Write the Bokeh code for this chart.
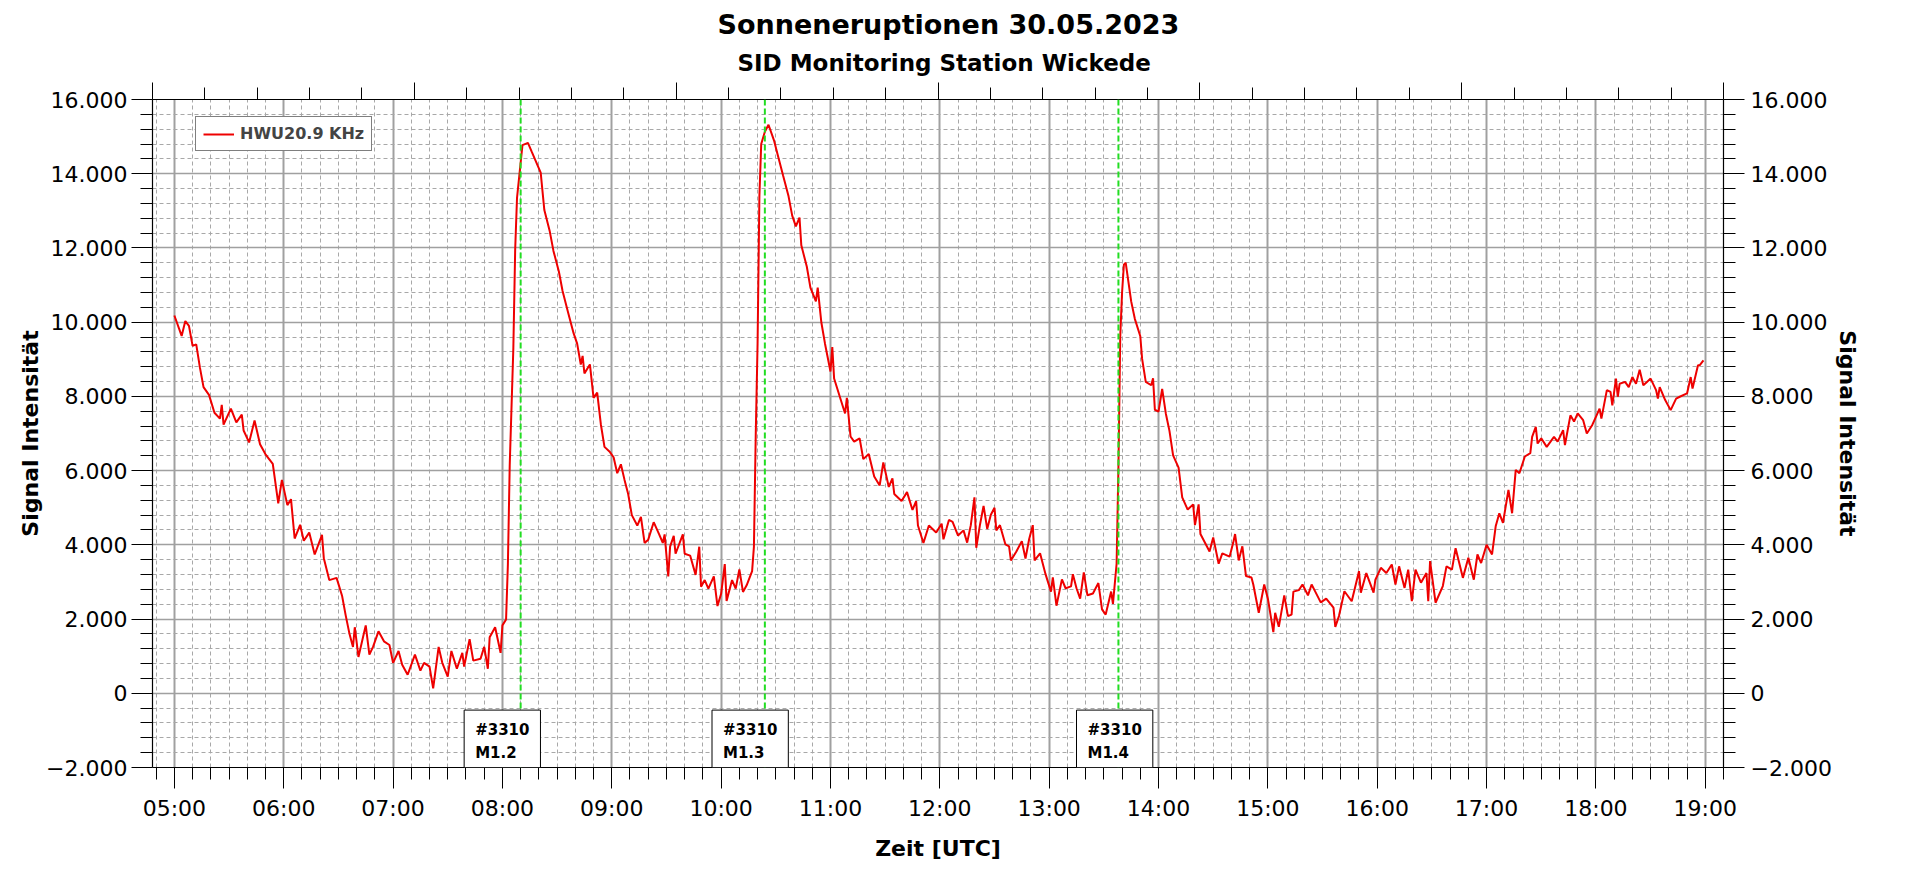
from bokeh.plotting import figure
from bokeh.models import (Range1d, LinearAxis, FixedTicker, Span, Label, Legend, LegendItem,
                          ColumnDataSource, Title)
from bokeh.embed import file_html
from bokeh.resources import INLINE

# ---------------- data ----------------
title_text = "Sonneneruptionen 30.05.2023"
subtitle_text = "SID Monitoring Station Wickede"
series_name = "HWU20.9 KHz"
x_label = "Zeit [UTC]"
y_label = "Signal Intensität"

time_utc = [
    "05:00", "05:04", "05:06", "05:08", "05:10", "05:12", "05:14", "05:16", "05:19", "05:22",
    "05:25", "05:26", "05:27", "05:31", "05:34", "05:37", "05:38", "05:41", "05:44", "05:47",
    "05:50", "05:54", "05:57", "05:59", "06:02", "06:04", "06:06", "06:09", "06:11", "06:14",
    "06:17", "06:21", "06:22", "06:25", "06:29", "06:32", "06:34", "06:36", "06:38", "06:39",
    "06:41", "06:43", "06:45", "06:47", "06:49", "06:52", "06:55", "06:58", "07:00", "07:03",
    "07:05", "07:08", "07:12", "07:15", "07:17", "07:20", "07:22", "07:25", "07:27", "07:30",
    "07:32", "07:35", "07:38", "07:39", "07:42", "07:44", "07:48", "07:50", "07:52", "07:53",
    "07:56", "07:59", "08:00", "08:02", "08:03", "08:04", "08:06", "08:07", "08:08", "08:10",
    "08:11", "08:14", "08:16", "08:21", "08:23", "08:26", "08:28", "08:31", "08:33", "08:36",
    "08:39", "08:41", "08:43", "08:44", "08:45", "08:48", "08:50", "08:52", "08:54", "08:56",
    "08:59", "09:01", "09:03", "09:05", "09:07", "09:09", "09:11", "09:14", "09:16", "09:18",
    "09:20", "09:23", "09:26", "09:28", "09:29", "09:31", "09:32", "09:34", "09:35", "09:39",
    "09:40", "09:43", "09:46", "09:48", "09:49", "09:51", "09:53", "09:56", "09:58", "10:00",
    "10:02", "10:03", "10:06", "10:08", "10:10", "10:12", "10:14", "10:17", "10:18", "10:19",
    "10:20", "10:21", "10:22", "10:24", "10:26", "10:29", "10:31", "10:34", "10:37", "10:39",
    "10:41", "10:43", "10:44", "10:47", "10:49", "10:52", "10:53", "10:55", "10:57", "11:00",
    "11:01", "11:02", "11:05", "11:08", "11:09", "11:11", "11:13", "11:16", "11:18", "11:21",
    "11:24", "11:27", "11:29", "11:32", "11:34", "11:35", "11:39", "11:42", "11:45", "11:47",
    "11:48", "11:51", "11:54", "11:58", "12:01", "12:02", "12:05", "12:07", "12:10", "12:13",
    "12:15", "12:17", "12:19", "12:20", "12:22", "12:24", "12:26", "12:28", "12:30", "12:31",
    "12:33", "12:36", "12:38", "12:39", "12:42", "12:45", "12:47", "12:49", "12:51", "12:52",
    "12:55", "12:58", "13:01", "13:02", "13:04", "13:07", "13:09", "13:12", "13:13", "13:15",
    "13:17", "13:19", "13:21", "13:24", "13:27", "13:29", "13:31", "13:34", "13:35", "13:37",
    "13:38", "13:39", "13:40", "13:41", "13:42", "13:45", "13:47", "13:50", "13:51", "13:53",
    "13:56", "13:57", "13:58", "14:00", "14:02", "14:04", "14:06", "14:08", "14:11", "14:13",
    "14:16", "14:19", "14:20", "14:22", "14:23", "14:26", "14:28", "14:30", "14:33", "14:35",
    "14:39", "14:41", "14:42", "14:44", "14:46", "14:48", "14:51", "14:52", "14:55", "14:58",
    "15:00", "15:03", "15:04", "15:06", "15:09", "15:11", "15:13", "15:14", "15:17", "15:19",
    "15:22", "15:24", "15:26", "15:29", "15:32", "15:36", "15:37", "15:39", "15:42", "15:46",
    "15:50", "15:51", "15:54", "15:58", "15:59", "16:02", "16:05", "16:08", "16:10", "16:12",
    "16:15", "16:17", "16:19", "16:21", "16:24", "16:27", "16:28", "16:29", "16:32", "16:36",
    "16:38", "16:41", "16:43", "16:45", "16:47", "16:50", "16:53", "16:55", "16:57", "17:00",
    "17:03", "17:05", "17:07", "17:09", "17:12", "17:14", "17:16", "17:18", "17:21", "17:24",
    "17:25", "17:27", "17:28", "17:30", "17:33", "17:37", "17:39", "17:42", "17:43", "17:46",
    "17:48", "17:50", "17:53", "17:55", "17:58", "18:00", "18:02", "18:03", "18:06", "18:08",
    "18:09", "18:11", "18:12", "18:13", "18:16", "18:18", "18:20", "18:22", "18:24", "18:26",
    "18:28", "18:30", "18:33", "18:34", "18:35", "18:38", "18:41", "18:44", "18:46", "18:50",
    "18:52", "18:53", "18:56", "18:57", "18:59",
]

signal = [
    10180, 9630, 10030, 9900, 9360, 9400, 8780, 8250, 8040, 7560,
    7400, 7770, 7240, 7670, 7300, 7510, 7080, 6760, 7350, 6710,
    6440, 6180, 5120, 5750, 5070, 5230, 4170, 4540, 4110, 4330,
    3740, 4270, 3640, 3050, 3110, 2630, 2100, 1620, 1250, 1780,
    980, 1400, 1830, 1040, 1250, 1670, 1400, 1300, 820, 1140,
    770, 500, 1040, 610, 820, 720, 130, 1250, 820, 450,
    1140, 660, 1090, 720, 1460, 880, 930, 1250, 660, 1510,
    1780, 1090, 1830, 1990, 3470, 6130, 9310, 11960, 13340, 14300,
    14770, 14830, 14600, 14030, 13020, 12440, 11920, 11360, 10840, 10270,
    9710, 9420, 8860, 9090, 8620, 8860, 7960, 8100, 7250, 6640,
    6500, 6360, 5930, 6170, 5750, 5370, 4800, 4520, 4750, 4050,
    4140, 4610, 4280, 4050, 4280, 3150, 3950, 4240, 3760, 4280,
    3760, 3710, 3190, 3950, 2870, 3050, 2820, 3150, 2350, 2680,
    3480, 2490, 3050, 2820, 3340, 2730, 2910, 3290, 3950, 6970,
    9420, 13390, 14800, 15130, 15320, 14900, 14520, 13950, 13390, 12870,
    12580, 12820, 12070, 11500, 10930, 10560, 10930, 9990, 9420, 8670,
    9330, 8480, 8010, 7540, 7960, 6920, 6780, 6870, 6310, 6450,
    5840, 5600, 6220, 5560, 5790, 5370, 5180, 5420, 4940, 5180,
    4520, 4050, 4520, 4330, 4570, 4150, 4670, 4620, 4250, 4390,
    4060, 4530, 5280, 3920, 4530, 5050, 4430, 4810, 5000, 4390,
    4530, 4010, 3960, 3580, 3820, 4100, 3630, 4150, 4530, 3580,
    3770, 3210, 2740, 3120, 2360, 3070, 2830, 2880, 3210, 2830,
    2550, 3260, 2640, 2690, 2970, 2260, 2120, 2740, 2410, 3490,
    6080, 9620, 10800, 11550, 11600, 10560, 10090, 9620, 9010, 8390,
    8300, 8490, 7640, 7590, 8200, 7540, 7070, 6410, 6080, 5280,
    4950, 5090, 4530, 5090, 4290, 4010, 3820, 4200, 3490, 3770,
    3680, 4060, 4290, 3580, 3960, 3160, 3120, 2930, 2170, 2930,
    2550, 1650, 2170, 1790, 2640, 2080, 2120, 2740, 2780, 2930,
    2640, 2930, 2740, 2450, 2550, 2310, 1790, 2080, 2750, 2480,
    3290, 2710, 3240, 2710, 3060, 3380, 3240, 3470, 2930, 3420,
    2840, 3330, 2480, 3330, 2980, 3240, 2480, 3560, 2440, 2890,
    3420, 3330, 3910, 3510, 3110, 3650, 3060, 3740, 3510, 4000,
    3740, 4500, 4850, 4590, 5480, 4850, 6020, 5930, 6380, 6470,
    6910, 7180, 6730, 6870, 6640, 6910, 6780, 7090, 6690, 7490,
    7320, 7540, 7360, 7000, 7230, 7450, 7670, 7400, 8170, 8120,
    7760, 8480, 7990, 8340, 8390, 8250, 8520, 8340, 8720, 8300,
    8390, 8480, 8170, 7940, 8250, 7900, 7630, 7940, 7990, 8080,
    8520, 8210, 8840, 8840, 8970,
]

# flares: peak time (green line), time at left edge of the note box, note text
flare_peak = ["08:10", "10:24", "13:38"]
flare_note_at = ["07:39", "09:55", "13:15"]
flare_note = ["#3310\nM1.2", "#3310\nM1.3", "#3310\nM1.4"]

x_tick_labels = ["05:00", "06:00", "07:00", "08:00", "09:00", "10:00", "11:00", "12:00",
                 "13:00", "14:00", "15:00", "16:00", "17:00", "18:00", "19:00"]
y_tick_values = [-2000, 0, 2000, 4000, 6000, 8000, 10000, 12000, 14000, 16000]
y_tick_labels = ["\u22122.000", "0", "2.000", "4.000", "6.000", "8.000", "10.000",
                 "12.000", "14.000", "16.000"]


def to_hours(s):
    h, m = s.split(":")
    return int(h) + int(m) / 60.0


# ---------------- figure ----------------
FONT = "DejaVu Sans"
x_start, x_end = to_hours("04:48"), to_hours("19:10")

p = figure(width=1904, height=863, output_backend="svg", toolbar_location=None,
           x_range=Range1d(x_start, x_end), y_range=Range1d(-2000, 16000),
           min_border_left=152, min_border_right=181, min_border_top=99, min_border_bottom=93,
           background_fill_color="white", border_fill_color="white", title=None)
p.outline_line_color = None

x_major = [int(to_hours(s)) for s in x_tick_labels]
x_minor = []
t = 4 * 60 + 50
while t <= 19 * 60 + 10:
    if t % 60 != 0:
        x_minor.append(t / 60.0)
    t += 10
y_minor = [v for v in range(-2000, 16001, 400) if v % 2000 != 0]

x_ticker = FixedTicker(ticks=x_major, minor_ticks=x_minor)
y_ticker = FixedTicker(ticks=y_tick_values, minor_ticks=y_minor)


def style_axis(ax):
    ax.axis_line_color = "black"
    ax.axis_line_width = 1.2
    ax.major_tick_line_color = "black"
    ax.minor_tick_line_color = "black"
    ax.major_tick_out = 21
    ax.major_tick_in = 0
    ax.minor_tick_out = 12
    ax.minor_tick_in = 0
    ax.major_label_text_font = FONT
    ax.major_label_text_font_size = "22px"
    ax.major_label_text_color = "black"
    ax.axis_label_text_font = FONT
    ax.axis_label_text_font_size = "22px"
    ax.axis_label_text_font_style = "bold"
    ax.axis_label_text_color = "black"


xa = p.xaxis[0]
xa.ticker = x_ticker
xa.major_label_overrides = {h: lab for h, lab in zip(x_major, x_tick_labels)}
style_axis(xa)
xa.axis_label = x_label
xa.major_label_standoff = 7
xa.axis_label_standoff = 12

ya = p.yaxis[0]
ya.ticker = y_ticker
ya.major_label_overrides = {v: lab for v, lab in zip(y_tick_values, y_tick_labels)}
style_axis(ya)
ya.axis_label = y_label
ya.major_label_standoff = 4
ya.axis_label_standoff = 0

ra = LinearAxis(ticker=FixedTicker(ticks=y_tick_values, minor_ticks=y_minor),
                major_label_overrides={v: lab for v, lab in zip(y_tick_values, y_tick_labels)})
style_axis(ra)
ra.axis_label = y_label
ra.major_label_standoff = 6
ra.axis_label_standoff = 0
p.add_layout(ra, "right")

p.extra_x_ranges = {"top": Range1d(0, 6)}
ta = LinearAxis(x_range_name="top",
                ticker=FixedTicker(ticks=[0, 1, 2, 3, 4, 5, 6],
                                   minor_ticks=[i / 5 for i in range(31) if i % 5 != 0]))
style_axis(ta)
ta.major_tick_out = 17
ta.major_label_text_font_size = "0px"
ta.major_label_text_color = None
ta.major_label_standoff = 0
p.add_layout(ta, "above")

# titles (subtitle nearest to the frame, main title above it)
p.add_layout(Title(text=subtitle_text, align="left", offset=585, standoff=14,
                   text_font=FONT, text_font_size="23px", text_font_style="bold",
                   text_color="black"), "above")
p.add_layout(Title(text=title_text, align="left", offset=565, standoff=1,
                   text_font=FONT, text_font_size="27px", text_font_style="bold",
                   text_color="black"), "above")

# grids
gx = p.xgrid[0]
gx.ticker = x_ticker
gx.grid_line_color = "#a0a0a0"
gx.grid_line_width = 2
gx.minor_grid_line_color = "#a8a8a8"
gx.minor_grid_line_width = 1
gx.minor_grid_line_dash = "4 3"

gy = p.ygrid[0]
gy.ticker = y_ticker
gy.grid_line_color = "#a0a0a0"
gy.grid_line_width = 1.3
gy.minor_grid_line_color = "#a8a8a8"
gy.minor_grid_line_width = 1
gy.minor_grid_line_dash = "4 3"

# signal line
src = ColumnDataSource(data=dict(t=[to_hours(s) for s in time_utc], v=signal))
line = p.line("t", "v", source=src, line_color="#ee0000", line_width=2)

# flare markers and notes
for peak, at, note in zip(flare_peak, flare_note_at, flare_note):
    p.add_layout(Span(location=to_hours(peak), dimension="height", line_color="#22dd22",
                      line_width=2, line_dash="6 3"))
    p.add_layout(Label(x=to_hours(at), y=-2000, text=note, text_align="left",
                       text_baseline="bottom", text_font=FONT, text_font_size="15px",
                       text_font_style="bold", text_color="black", text_line_height=1.3,
                       background_fill_color="white", border_line_color="black",
                       border_line_width=1,
                       padding=dict(left=11, right=11, top=11, bottom=5)))

legend = Legend(items=[LegendItem(label=series_name, renderers=[line])], location=(43, 616),
                border_line_color="black", border_line_width=1.5, background_fill_color="white",
                background_fill_alpha=1.0, label_text_font=FONT, label_text_font_size="16px",
                label_text_font_style="bold", glyph_width=31, glyph_height=14, label_height=14,
                padding=7, spacing=0, margin=0, label_standoff=6)
p.add_layout(legend)

open("out.html", "w").write(file_html(p, INLINE))
